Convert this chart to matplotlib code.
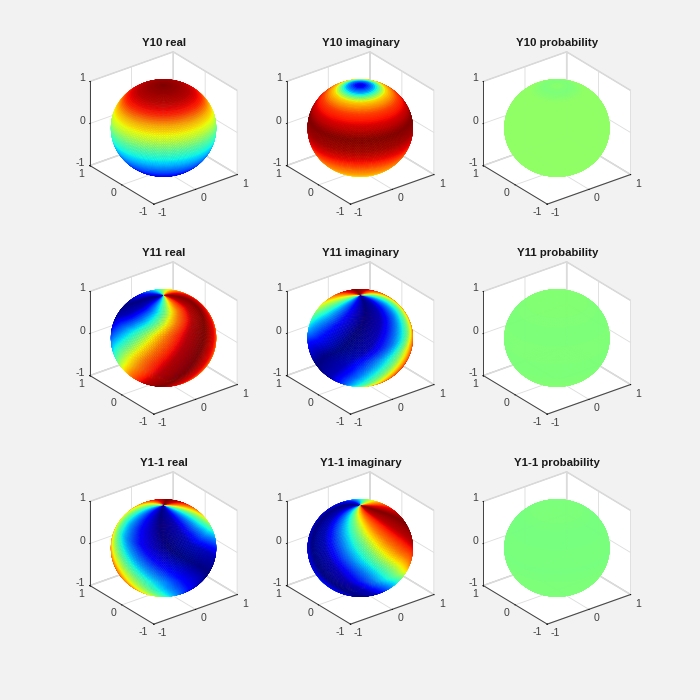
"""
Spherical harmonics Y1m on the unit sphere, 3x3 grid (real / imaginary / probability)
"""
import numpy as np
import matplotlib
matplotlib.use('Agg')
matplotlib.rcParams['font.family'] = ['Liberation Sans', 'DejaVu Sans']
matplotlib.rcParams['grid.color'] = '#dcdcdc'
matplotlib.rcParams['grid.linewidth'] = 0.6
import matplotlib.pyplot as plt
from mpl_toolkits.mplot3d import proj3d

# ── values ────────────────────────────────────────────────────────────────────
# latitude rows (deg) used by every table below
LAT = [90, 75, 60, 45, 30, 15, 0, -15, -30, -45, -60, -75, -90]

# panels coloured by latitude only: colour level 0..1 on the jet scale
Y10_REAL = [1.0, 0.98, 0.95, 0.88, 0.72, 0.60, 0.46, 0.35, 0.24, 0.15, 0.11, 0.08, 0.05]
Y10_IMAG = [0.04, 0.28, 0.68, 0.84, 0.93, 1.0, 0.97, 0.90, 0.80, 0.73, 0.66, 0.60, 0.55]
Y10_PROB = [0.52, 0.50, 0.525, 0.525, 0.525, 0.525, 0.525, 0.525, 0.525, 0.525, 0.525, 0.525, 0.525]
Y11_PROB = [0.51, 0.51, 0.51, 0.505, 0.50, 0.505, 0.505, 0.50, 0.505, 0.51, 0.51, 0.51, 0.51]
Y1M_PROB = [0.50, 0.50, 0.50, 0.495, 0.495, 0.50, 0.495, 0.50, 0.50, 0.50, 0.50, 0.50, 0.50]

# panels with a swirl: longitude (deg from the viewer) of the green band per latitude
Y11_REAL_BAND = [8, 5, 2, -10, -28, -40, -52, -62, -75, -88, -105, -118, -130]
Y11_IMAG_BAND = [105, 105, 100, 92, 80, 68, 48, 35, 22, 12, -5, -20, -35]
Y1M_REAL_BAND = [75, 78, 82, 86, 94, 112, 130, 146, 156, 165, 175, 185, 195]
Y1M_IMAG_BAND = [-30, -22, -12, -3, 7, 18, 32, 44, 64, 80, 95, 110, 125]

# colour level against the angle away from that band
BAND_OFFSET = [-180, -150, -120, -90, -60, -30, -15, 0, 15, 30, 60, 90, 120, 150, 180]
BAND_LEVEL = [0.5, 0.28, 0.1, 0.0, 0.05, 0.25, 0.37, 0.5, 0.66, 0.78, 0.95, 1.0, 0.9, 0.72, 0.5]

TITLES = ['Y10 real', 'Y10 imaginary', 'Y10 probability',
          'Y11 real', 'Y11 imaginary', 'Y11 probability',
          'Y1-1 real', 'Y1-1 imaginary', 'Y1-1 probability']
TICKS = [-1, 0, 1]

# ── view, same as the picture ─────────────────────────────────────────────────
AZIM = -127.5
ELEV = 30
BG = '#f2f2f2'
TXT = '#404040'

# sphere mesh
lam = np.radians(np.linspace(-180, 180, 181))
phi = np.radians(np.linspace(-90, 90, 91))
LAM, PHI = np.meshgrid(lam, phi)
X = np.cos(PHI) * np.cos(LAM + np.radians(AZIM))
Y = np.cos(PHI) * np.sin(LAM + np.radians(AZIM))
Z = np.sin(PHI)
lat_deg = np.degrees(PHI)
lam_deg = np.degrees(LAM)


def by_lat(levels):
    return np.interp(lat_deg, LAT[::-1], levels[::-1])


def swirl(band):
    # the levels are shaded smoothly over the facets, like MATLAB's shading interp
    off = lam_deg - np.interp(lat_deg, LAT[::-1], band[::-1])
    off = (off + 180) % 360 - 180
    return np.interp(off, BAND_OFFSET, BAND_LEVEL)


def tick_label(ax, xyz, text, dx, dy, ha):
    # offset in px from the projected tick, mplot3d's own label placement can't do this
    xp, yp, _ = proj3d.proj_transform(*xyz, ax.get_proj())
    ax.annotate(text, xy=(xp, yp), xytext=(dx * 0.72, dy * 0.72), textcoords='offset points',
                ha=ha, va='center', fontsize=7.6, color=TXT, annotation_clip=False)


fields = [by_lat(Y10_REAL), by_lat(Y10_IMAG), by_lat(Y10_PROB),
          swirl(Y11_REAL_BAND), swirl(Y11_IMAG_BAND), by_lat(Y11_PROB),
          swirl(Y1M_REAL_BAND), swirl(Y1M_IMAG_BAND), by_lat(Y1M_PROB)]

# ── figure ────────────────────────────────────────────────────────────────────
fig = plt.figure(figsize=(7, 7), dpi=100, facecolor=BG)
cmap = plt.get_cmap('jet')

W, H = 176.5, 163.4      # axes size in px, wider than tall like the stretched MATLAB axes
for i, (field, title) in enumerate(zip(fields, TITLES)):
    row, col = divmod(i, 3)
    x0 = 72.9 + col * 196.7
    top = 48.5 + row * 210
    ax = fig.add_axes([x0 / 700, 1 - (top + H) / 700, W / 700, H / 700],
                      projection='3d', proj_type='ortho', facecolor='none')
    ax.apply_aspect = lambda position=None: None     # keep it non-square
    ax.set_box_aspect((1, 1, 1), zoom=1)
    ax.view_init(elev=ELEV, azim=AZIM)
    ax.plot_surface(X, Y, Z, facecolors=cmap(field), rstride=1, cstride=1,
                    shade=False, linewidth=0.3, antialiased=True)
    ax.set_xlim(-1, 1)
    ax.set_ylim(-1, 1)
    ax.set_zlim(-1, 1)
    ax.set_xticks(TICKS)
    ax.set_yticks(TICKS)
    ax.set_zticks(TICKS)
    ax.set_xticklabels([])
    ax.set_yticklabels([])
    ax.set_zticklabels([])
    for a in (ax.xaxis, ax.yaxis, ax.zaxis):
        a.set_pane_color('white')
        a.pane.set_edgecolor('#d0d0d0')
        a.line.set_color(TXT)
        a.line.set_linewidth(0.7)
        a._axinfo['tick']['inward_factor'] = 0.05
        a._axinfo['tick']['outward_factor'] = 0.0
        a._axinfo['tick']['linewidth'] = {True: 0.6, False: 0.4}
    for t in TICKS:
        tick_label(ax, (t, -1, -1), str(t), 8, -9, 'center')
        tick_label(ax, (-1, t, -1), str(t), -5.5, -8, 'right')
        tick_label(ax, (-1, 1, t), str(t), -5, 3, 'right')
    ax.set_title(title, fontsize=8.2, fontweight='bold', color='#1a1a1a', x=0.515, y=1.0, pad=11)

fig.savefig('out.png', dpi=100, facecolor=BG)
